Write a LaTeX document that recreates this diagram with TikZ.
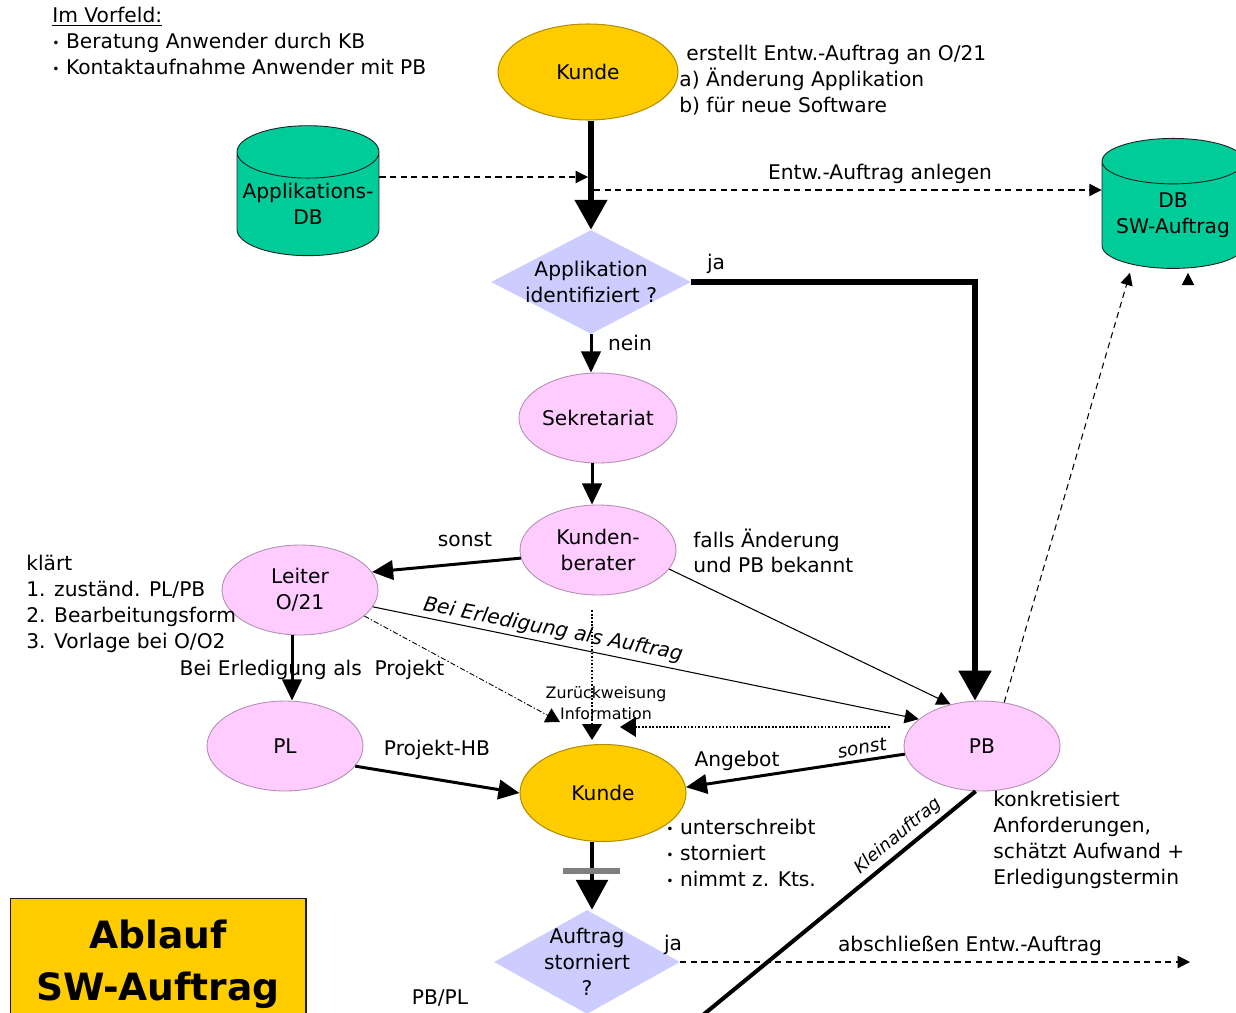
\documentclass[tikz,border=0pt]{standalone}
\usepackage{fontspec}
\setmainfont{DejaVu Sans}
\usetikzlibrary{arrows.meta,shapes.geometric}
\definecolor{swGold}{HTML}{FFCC00}
\definecolor{swTeal}{HTML}{00CC99}
\definecolor{swLila}{HTML}{CCCCFF}
\definecolor{swPink}{HTML}{FFCCFF}
\definecolor{swInk}{HTML}{1E1E1E}
\definecolor{swGray}{HTML}{7F7F7F}
\newcommand{\bul}{\raisebox{0.1ex}{\scriptsize\textbullet}}

\begin{document}
\begin{tikzpicture}[x=0.02cm,y=-0.02cm,
	font=\fontsize{11.5}{14.7}\selectfont,
	kunde/.style={ellipse,fill=swGold,draw=swGold!70!black,line width=0.6pt,inner sep=0pt,minimum width=3.6cm,minimum height=1.92cm},
	rolle/.style={ellipse,fill=swPink,draw=swPink!70!black,line width=0.5pt,inner sep=0pt,minimum width=3.12cm,minimum height=1.8cm,align=center},
	frage/.style={diamond,fill=swLila,aspect=1.9,inner sep=-6pt,align=center},
	dbase/.style={cylinder,shape border rotate=90,aspect=0.4,fill=swTeal,draw=swInk,line width=0.5pt,inner sep=0pt,minimum width=2.84cm,minimum height=2.6cm,align=center},
	txt/.style={align=left,anchor=west,inner sep=0pt},
	lbl/.style={inner sep=0pt},
	bigarr/.style={line width=3.4pt,-{Triangle[length=17pt,width=18pt]}},
	midarr/.style={line width=1.7pt,-{Triangle[length=12pt,width=11pt]}},
	thinarr/.style={line width=0.6pt,-{Triangle[length=8pt,width=8pt]}},
	dasharr/.style={line width=0.6pt,dash pattern=on 3.5pt off 2.5pt,-{Triangle[length=7pt,width=7pt]}},
	dotarr/.style={line width=1.3pt,dash pattern=on 1pt off 1pt,-{Triangle[length=9pt,width=11pt]}},
	dashdotarr/.style={line width=0.5pt,dash pattern=on 3pt off 1.2pt on 0.8pt off 1.2pt,-{Triangle[length=8pt,width=9pt]}}]
	\useasboundingbox (0,0) rectangle (1236,1013);

	% Knoten
	\node[kunde] (kunde1) at (588,72) {Kunde};
	\node[dbase] (appdb) at (308,204) {Applikations-\\DB};
	\node[dbase] (dbsw) at (1173,215) {DB\\SW-Auftrag};
	\node[frage,minimum width=4cm,minimum height=2.08cm] (app) at (591,282) {Applikation\\identifiziert ?};
	\node[rolle] (sek) at (598,418) {Sekretariat};
	\node[rolle] (kb) at (598,550) {Kunden-\\berater};
	\node[rolle] (leiter) at (300,590) {Leiter\\O/21};
	\node[rolle] (pl) at (285,746) {PL};
	\node[rolle] (pb) at (982,746) {PB};
	\node[kunde,minimum width=3.32cm,minimum height=1.94cm] (kunde2) at (603,793) {Kunde};
	\node[frage,minimum width=3.72cm,minimum height=2.08cm] (storn) at (587,962) {Auftrag\\storniert\\?};
	\node[draw=swInk,fill=swGold,line width=0.6pt,anchor=north,minimum width=5.92cm,minimum height=2.64cm,align=center,
		font=\bfseries\fontsize{21.4}{29.5}\selectfont] (titel) at (158,898) {Ablauf\\SW-Auftrag};

	% Texte
	\node[txt] (vorfeld) at (52,41) {\underline{Im Vorfeld:}\\\bul\ Beratung Anwender durch KB\\\bul\ Kontaktaufnahme Anwender mit PB};
	\node[txt] (erstellt) at (679,80) {\hspace{4pt}erstellt Entw.-Auftrag an O/21\\a) Änderung Applikation\\b) für neue Software};
	\node[lbl] (lblanlegen) at (880,174) {Entw.-Auftrag anlegen};
	\node[lbl] (lblja1) at (716,264) {ja};
	\node[lbl] (lblnein) at (630,343) {nein};
	\node[lbl] (lblsonst1) at (465,540) {sonst};
	\node[txt] (falls) at (693,551) {falls Änderung\\und PB bekannt};
	\node[txt] (klaert) at (26,604) {klärt\\1. zuständ. PL/PB\\2. Bearbeitungsform\\3. Vorlage bei O/O2};
	\node[lbl] (lblprojekt) at (312,670) {Bei Erledigung als\ \ Projekt};
	\node[lbl,rotate=-11,font=\itshape\fontsize{11.5}{14.7}\selectfont] (lblauftrag) at (553,630) {Bei Erledigung als Auftrag};
	\node[lbl,align=center,font=\fontsize{9}{11.5}\selectfont] (lblzurueck) at (606,703) {Zurückweisung\\Information};
	\node[lbl] (lblhb) at (437,750) {Projekt-HB};
	\node[lbl] (lblangebot) at (737,761) {Angebot};
	\node[lbl,rotate=10,font=\itshape\fontsize{10.5}{14}\selectfont] (lblsonst2) at (862,748) {sonst};
	\node[txt] (kundetun) at (666,853) {\bul\ unterschreibt\\\bul\ storniert\\\bul\ nimmt z. Kts.};
	\node[txt] (konkret) at (993,840) {konkretisiert\\Anforderungen,\\schätzt Aufwand +\\Erledigungstermin};
	\node[lbl,rotate=40,font=\itshape\fontsize{10}{13}\selectfont] (lblklein) at (898,836) {Kleinauftrag};
	\node[lbl] (lblja2) at (673,945) {ja};
	\node[lbl] (lblabschl) at (970,946) {abschließen Entw.-Auftrag};
	\node[lbl] (lblpbpl) at (440,998) {PB/PL};

	% Hilfspunkte
	\coordinate (dbjoin) at (588,177);
	\coordinate (anlegen0) at (594,190);
	\coordinate (rejend) at (560,722);
	\coordinate (infoend) at (620,727);
	\coordinate (kleinend) at (692,1024);
	\coordinate (closeend) at (1190,962);

	% Verbindungen
	\draw[bigarr] (kunde1.south -| app.north) -- (app.north);
	\draw[dasharr] (appdb.east |- dbjoin) -- (dbjoin);
	\draw[dasharr] (anlegen0) -- (anlegen0 -| dbsw.west);
	\draw[bigarr] (app.east) -| ([xshift=-0.14cm]pb.north);
	\draw[midarr] (app.south) -- (app.south |- sek.north);
	\draw[midarr] ([xshift=-0.12cm]sek.south) -- ([xshift=-0.12cm]kb.north);
	\draw[midarr] (kb.186) -- (leiter.14);
	\draw[thinarr] (kb.-15) -- (pb.127);
	\draw[thinarr] (leiter.-13) -- (pb.157);
	\draw[midarr] ([xshift=-0.16cm]leiter.south) -- ([xshift=-0.16cm]leiter.south |- pl.north);
	\draw[dashdotarr] (leiter.-22) -- (rejend);
	\draw[dotarr] ([shift={(-6,15)}]kb.south) -- ([shift={(-11,-4)}]kunde2.north);
	\draw[dotarr] ([shift={(-14,-19)}]pb.west) -- (infoend);
	\draw[midarr] (pl.-16) -- (kunde2.west);
	\draw[midarr] (pb.186) -- (kunde2.4);
	\draw[dasharr] (pb.63) -- ([shift={(-43,4)}]dbsw.south);
	\draw[dasharr] ([shift={(15,14)}]dbsw.south) -- ([shift={(15,4)}]dbsw.south);
	\draw[line width=2.3pt] (pb.262) -- (kleinend);
	\draw[bigarr,line width=2.3pt] ([xshift=-0.22cm]kunde2.south) -- ([xshift=-0.22cm]kunde2.south |- storn.north);
	\draw[line width=3.2pt,swGray] (563,871) -- (620,871);
	\draw[dasharr] (storn.east) -- (closeend);
\end{tikzpicture}
\end{document}
